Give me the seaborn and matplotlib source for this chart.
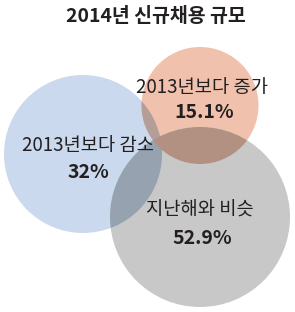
import numpy as np
import matplotlib
matplotlib.use("Agg")
import matplotlib.pyplot as plt
from matplotlib.patches import Circle
import seaborn as sns

# data
title = "2014년 신규채용 규모"
labels = ["2013년보다 감소", "2013년보다 증가", "지난해와 비슷"]
shares = [32, 15.1, 52.9]

# layout (pixel coords, y downwards)
centers = [(83, 154), (200, 105.5), (200, 217)]
radii = [79, 58.5, 90]
label_pos = [(88, 145), (202, 87), (200, 210)]
value_pos = [(88, 173), (204, 113), (202, 238)]

sns.set_theme(style="white")
plt.rcParams['font.family'] = ['Noto Sans CJK KR', 'DejaVu Sans']

colors = ["#cad9ed", "#f0c2ae", "#c8c8c8"]
rgb = [np.array(matplotlib.colors.to_rgb(c)) for c in colors]

fig = plt.figure(figsize=(2.95, 3.12), dpi=100)
ax = fig.add_axes([0, 0, 1, 1])
ax.set_xlim(0, 295)
ax.set_ylim(312, 0)
ax.axis('off')

# base circles
circles = []
for c, r, col in zip(centers, radii, colors):
    p = Circle(c, r, facecolor=col, edgecolor='none', zorder=1)
    ax.add_patch(p)
    circles.append(p)

# multiply-style overlaps, drawn with clip paths
pairs = [(0, 1), (0, 2), (1, 2)]
for i, j in pairs:
    mix = np.clip(rgb[i] * rgb[j] * 0.95, 0, 1)
    p = Circle(centers[j], radii[j], facecolor=mix, edgecolor='none', zorder=2)
    ax.add_patch(p)
    p.set_clip_path(circles[i])

for (x, y), lab in zip(label_pos, labels):
    ax.text(x, y, lab, ha='center', va='center', fontsize=13.5, color='#231f20', zorder=5)
for (x, y), v in zip(value_pos, shares):
    ax.text(x, y, f"{v}%", ha='center', va='center', fontsize=14,
            fontweight='bold', color='#231f20', zorder=5)

ax.text(156, 17, title, ha='center', va='center', fontsize=14,
        fontweight='bold', color='#231f20')

fig.savefig("out.png", dpi=100)
plt.close(fig)
